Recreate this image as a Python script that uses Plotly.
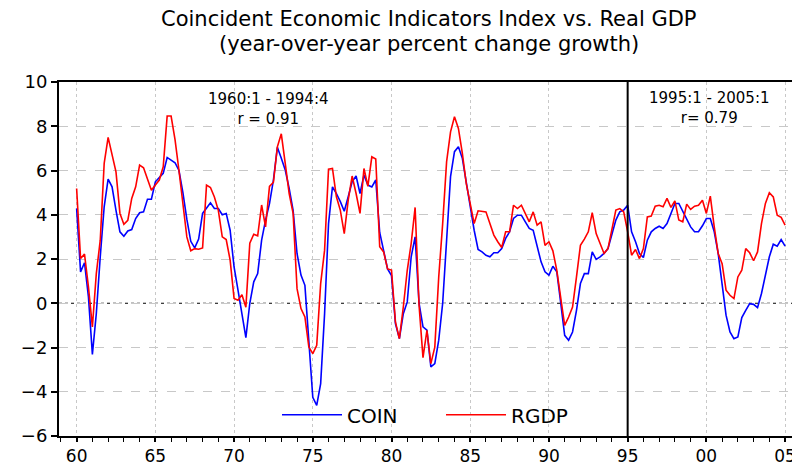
import plotly.graph_objects as go

# quarterly data, 1960:1 - 2005:1
start_year = 1960
coin = [
    4.28, 1.42, 1.83, 0.29, -2.31, -0.47, 2.10, 4.36, 5.61, 5.26,
    4.20, 3.23, 3.03, 3.27, 3.33, 3.83, 4.09, 4.13, 4.70, 4.70,
    5.49, 5.69, 5.87, 6.59, 6.47, 6.35, 6.00, 5.00, 3.80, 2.80,
    2.50, 2.90, 4.06, 4.28, 4.54, 4.28, 4.28, 4.00, 4.06, 3.30,
    1.64, 0.59, -0.47, -1.55, 0.00, 0.97, 1.34, 2.85, 3.76, 4.50,
    5.57, 7.05, 6.55, 6.02, 5.19, 4.20, 2.25, 1.27, 0.81, -1.98,
    -4.25, -4.62, -3.63, -0.47, 3.60, 5.26, 4.96, 4.59, 4.16, 4.81,
    5.49, 5.75, 4.96, 5.79, 5.34, 5.26, 5.57, 3.20, 2.40, 1.55,
    1.25, -0.92, -1.60, -0.47, 0.06, 2.10, 3.00, 0.00, -1.07, -1.22,
    -2.88, -2.73, -1.67, 0.00, 2.85, 5.72, 6.85, 7.07, 6.55, 5.41,
    4.36, 3.30, 2.43, 2.32, 2.17, 2.10, 2.28, 2.28, 2.47, 2.93,
    3.23, 3.83, 3.98, 3.98, 3.68, 3.38, 3.30, 2.55, 1.87, 1.42,
    1.27, 1.67, 1.42, 0.00, -1.45, -1.67, -1.30, -0.32, 0.89, 1.34,
    1.34, 2.32, 1.98, 2.10, 2.25, 2.47, 3.15, 3.76, 4.13, 4.21,
    4.43, 3.23, 2.78, 2.25, 2.07, 2.85, 3.23, 3.38, 3.48, 3.38,
    3.60, 4.06, 4.51, 4.51, 4.13, 3.76, 3.45, 3.23, 3.23, 3.50,
    3.83, 3.83, 3.23, 2.25, 0.81, -0.54, -1.30, -1.60, -1.52, -0.65,
    -0.32, -0.02, -0.05, -0.20, 0.44, 1.27, 2.10, 2.67, 2.58, 2.88,
    2.58,
]
rgdp = [
    5.19, 2.02, 2.22, 0.74, -1.07, 1.34, 2.85, 6.32, 7.50, 6.70,
    5.94, 4.06, 3.57, 3.75, 4.74, 5.26, 6.24, 6.12, 5.64, 5.11,
    5.34, 5.57, 6.17, 8.46, 8.46, 7.40, 6.00, 4.50, 3.00, 2.37,
    2.47, 2.44, 2.50, 5.34, 5.23, 4.80, 4.20, 3.00, 2.88, 1.95,
    0.22, 0.14, 0.38, -0.18, 2.72, 3.12, 3.05, 4.44, 3.45, 5.28,
    5.47, 7.07, 7.66, 6.32, 4.96, 4.06, 0.66, -0.24, -0.62, -1.98,
    -2.28, -1.90, 0.89, 2.40, 6.06, 6.09, 4.81, 4.20, 3.15, 4.66,
    5.75, 4.96, 4.06, 6.09, 5.29, 6.62, 6.52, 2.55, 2.32, 1.55,
    1.50, -0.84, -1.60, -0.17, 1.49, 2.70, 4.33, -0.09, -2.46, -1.22,
    -2.73, -1.98, 1.19, 3.60, 6.40, 7.75, 8.43, 7.90, 6.77, 5.41,
    4.51, 3.60, 4.18, 4.16, 4.13, 3.60, 3.08, 2.78, 2.52, 3.23,
    3.23, 4.43, 4.28, 4.43, 4.06, 3.68, 4.13, 3.53, 3.68, 2.62,
    2.78, 2.37, 1.49, 0.14, -1.00, -0.62, -0.17, 1.19, 2.62, 2.90,
    3.23, 4.09, 3.15, 2.70, 2.25, 2.47, 3.38, 4.21, 4.28, 4.13,
    3.23, 2.17, 2.43, 2.02, 2.47, 3.90, 3.94, 4.39, 4.43, 4.36,
    4.74, 4.33, 4.63, 3.76, 3.68, 4.48, 4.24, 4.39, 4.43, 4.66,
    4.06, 4.84, 3.45, 2.25, 1.79, 0.59, 0.36, 0.21, 1.19, 1.49,
    2.47, 2.28, 1.92, 2.32, 3.60, 4.51, 5.00, 4.81, 3.98, 3.88,
    3.53,
]
tick_years = [1960, 1965, 1970, 1975, 1980, 1985, 1990, 1995, 2000, 2005]
tick_labels = ["60", "65", "70", "75", "80", "85", "90", "95", "00", "05"]
break_year = 1995

x = [start_year + i / 4 for i in range(len(coin))]
font = "DejaVu Sans"

fig = go.Figure()
fig.add_trace(go.Scatter(x=x, y=coin, mode="lines", name="COIN",
                         line=dict(color="#0000FF", width=1.6)))
fig.add_trace(go.Scatter(x=x, y=rgdp, mode="lines", name="RGDP",
                         line=dict(color="#FF0000", width=1.6)))

# zero line and sample split
fig.add_shape(type="line", xref="paper", x0=0, x1=1, y0=0, y1=0,
              line=dict(color="black", width=1, dash="dot"), layer="below")
fig.add_shape(type="line", x0=break_year, x1=break_year, yref="paper", y0=0, y1=1,
              line=dict(color="black", width=2))

# title lines
ttl = dict(xref="paper", yref="paper", x=0.5, xanchor="center", yanchor="middle",
           showarrow=False, font=dict(family=font, size=21, color="black"))
fig.add_annotation(text="Coincident Economic Indicators Index vs. Real GDP", y=1.178, **ttl)
fig.add_annotation(text="(year-over-year percent change growth)", y=1.107, **ttl)

ann = dict(xref="paper", yref="paper", showarrow=False, align="center",
           xanchor="center", yanchor="middle",
           font=dict(family=font, size=15, color="black"))
fig.add_annotation(text="1960:1 - 1994:4<br>r = 0.91", x=0.284, y=0.925, **ann)
fig.add_annotation(text="1995:1 - 2005:1<br>r= 0.79", x=0.880, y=0.927, **ann)

# page body has an 8px margin, so the figure is a bit smaller than the window
fig.update_layout(
    width=792, height=458,
    margin=dict(l=51, r=2, t=74, b=30),
    paper_bgcolor="white", plot_bgcolor="white",
    font=dict(family=font, color="black"),
    legend=dict(orientation="h", x=0.295, y=0.06, xanchor="left", yanchor="middle",
                itemwidth=60, entrywidth=89, entrywidthmode="pixels",
                bgcolor="rgba(0,0,0,0)", font=dict(family=font, size=20)),
    showlegend=True,
)
fig.update_xaxes(
    range=[1958.88, 2005.82], automargin=False,
    tickvals=tick_years, ticktext=tick_labels,
    ticks="outside", ticklen=4, tickwidth=1.5, tickcolor="black",
    minor=dict(dtick=1, tick0=1960, ticks="outside", ticklen=4, tickwidth=1, tickcolor="black",
               showgrid=False),
    showgrid=True, gridcolor="#C8C8C8", griddash="dot", gridwidth=1,
    showline=True, linecolor="black", linewidth=2, mirror=True,
    zeroline=False, tickfont=dict(family=font, size=17),
)
fig.update_yaxes(
    range=[-6, 10], dtick=2, automargin=False,
    ticks="outside", ticklen=6, tickwidth=1.5, tickcolor="black",
    showgrid=True, gridcolor="#C8C8C8", griddash="dash", gridwidth=1,
    showline=True, linecolor="black", linewidth=2, mirror=True,
    zeroline=False, tickfont=dict(family=font, size=18),
)

fig.write_html("out.html")
